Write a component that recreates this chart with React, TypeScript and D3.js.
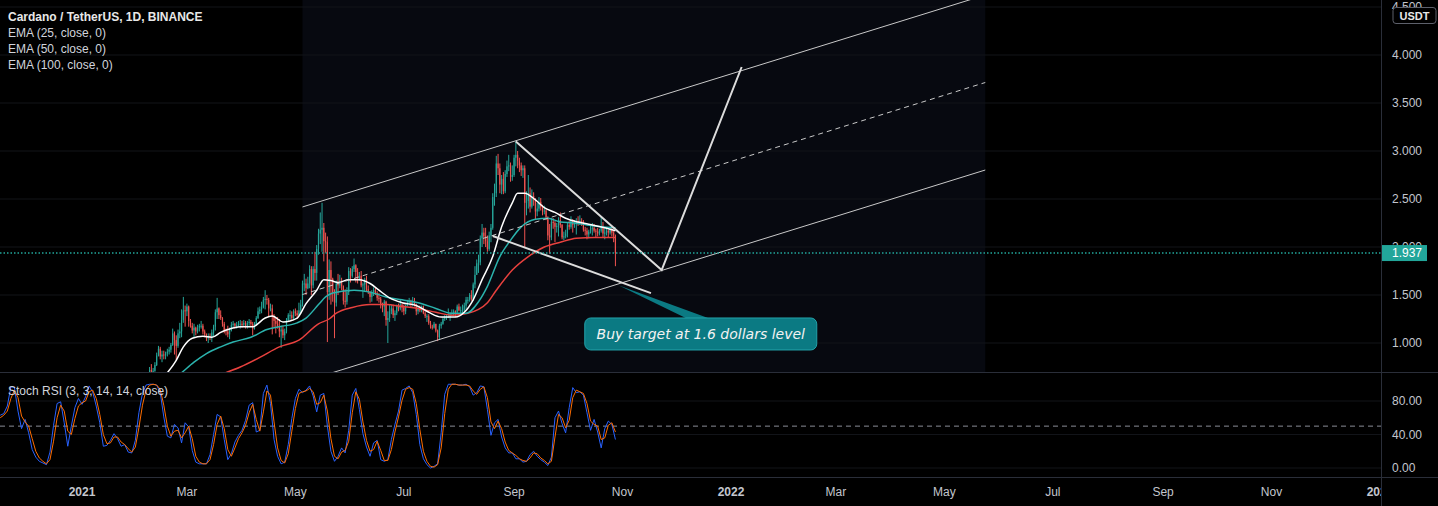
import React from "react";
import * as d3 from "d3";

const parse = (s: string) => d3.utcParse("%Y-%m-%d")(s) as Date;

// daily ADA/USDT candles, first bar 2021-02-08, open of a bar = previous close
const candleStart = "2021-02-08";
const firstOpen = 0.66;
const closes = [
  // feb
  0.72, 0.70, 0.71, 0.77, 0.87, 0.94, 0.86, 0.88, 0.87, 0.89, 0.91, 0.93, 0.98, 1.10, 1.03, 0.97, 1.10, 1.12, 1.24, 1.34, 1.33,
  // mar
  1.38, 1.23, 1.18, 1.13, 1.16, 1.12, 1.16, 1.18, 1.18, 1.12, 1.09, 1.05, 1.07, 1.06, 1.11, 1.17, 1.32, 1.36, 1.29, 1.26, 1.20, 1.13, 1.12, 1.09, 1.13, 1.19, 1.20, 1.18, 1.19, 1.20, 1.20,
  // apr
  1.19, 1.21, 1.17, 1.21, 1.22, 1.20, 1.15, 1.20, 1.26, 1.33, 1.35, 1.37, 1.45, 1.46, 1.45, 1.36, 1.36, 1.27, 1.23, 1.20, 1.17, 1.12, 1.14, 1.08, 1.12, 1.24, 1.29, 1.29, 1.26, 1.33,
  // may
  1.31, 1.29, 1.34, 1.40, 1.62, 1.62, 1.57, 1.62, 1.77, 1.60, 1.77, 1.73, 1.98, 2.14, 2.18, 2.20, 2.06, 2.05, 1.53, 1.76, 1.67, 1.53, 1.42, 1.62, 1.60, 1.64, 1.59, 1.44, 1.43, 1.53, 1.75,
  // jun
  1.70, 1.77, 1.81, 1.74, 1.67, 1.70, 1.60, 1.61, 1.66, 1.56, 1.53, 1.48, 1.53, 1.55, 1.52, 1.47, 1.46, 1.40, 1.38, 1.43, 1.24, 1.26, 1.33, 1.36, 1.29, 1.31, 1.39, 1.36, 1.40, 1.37,
  // jul
  1.33, 1.39, 1.42, 1.44, 1.40, 1.44, 1.40, 1.33, 1.37, 1.34, 1.38, 1.31, 1.28, 1.28, 1.21, 1.17, 1.16, 1.20, 1.13, 1.06, 1.18, 1.20, 1.25, 1.27, 1.27, 1.27, 1.31, 1.31, 1.33, 1.32, 1.38,
  // aug
  1.34, 1.34, 1.34, 1.39, 1.45, 1.45, 1.50, 1.46, 1.61, 1.71, 1.83, 1.84, 2.09, 2.15, 2.11, 2.06, 1.98, 2.12, 2.20, 2.52, 2.56, 2.87, 2.82, 2.65, 2.71, 2.58, 2.76, 2.84, 2.85, 2.73, 2.75,
  // sep
  2.93, 2.96, 2.90, 2.85, 2.80, 2.82, 2.46, 2.48, 2.56, 2.42, 2.53, 2.50, 2.37, 2.40, 2.47, 2.42, 2.37, 2.38, 2.31, 2.12, 2.10, 2.26, 2.25, 2.21, 2.22, 2.28, 2.23, 2.10, 2.11, 2.14,
  // oct
  2.23, 2.21, 2.28, 2.23, 2.25, 2.27, 2.25, 2.27, 2.26, 2.18, 2.17, 2.13, 2.16, 2.19, 2.20, 2.17, 2.16, 2.14, 2.17, 2.21, 2.14, 2.15, 2.17, 2.15, 2.18, 2.15, 2.12, 1.937,
];
const highs = [
  0.75, 0.78, 0.74, 0.80, 0.90, 0.97, 0.96, 0.92, 0.92, 0.91, 0.94, 0.96, 1.00, 1.15, 1.12, 1.08, 1.14, 1.21, 1.35, 1.48, 1.39,
  1.41, 1.39, 1.25, 1.21, 1.20, 1.17, 1.19, 1.20, 1.23, 1.20, 1.14, 1.10, 1.10, 1.10, 1.14, 1.19, 1.35, 1.47, 1.37, 1.34, 1.27, 1.22, 1.15, 1.18, 1.16, 1.22, 1.23, 1.21, 1.22, 1.23, 1.24,
  1.23, 1.24, 1.23, 1.23, 1.25, 1.24, 1.22, 1.22, 1.28, 1.37, 1.38, 1.43, 1.48, 1.55, 1.50, 1.47, 1.41, 1.40, 1.30, 1.26, 1.27, 1.25, 1.18, 1.18, 1.15, 1.26, 1.31, 1.34, 1.33, 1.35,
  1.36, 1.34, 1.42, 1.45, 1.65, 1.72, 1.67, 1.69, 1.81, 1.80, 1.80, 1.95, 2.02, 2.19, 2.36, 2.46, 2.25, 2.15, 2.11, 1.87, 1.85, 1.68, 1.56, 1.65, 1.72, 1.71, 1.68, 1.60, 1.56, 1.58, 1.79,
  1.78, 1.80, 1.88, 1.82, 1.78, 1.74, 1.75, 1.63, 1.68, 1.70, 1.60, 1.54, 1.55, 1.58, 1.58, 1.54, 1.52, 1.48, 1.42, 1.45, 1.44, 1.33, 1.40, 1.40, 1.40, 1.34, 1.40, 1.41, 1.45, 1.41,
  1.40, 1.40, 1.45, 1.47, 1.45, 1.48, 1.47, 1.41, 1.38, 1.39, 1.39, 1.39, 1.33, 1.30, 1.30, 1.23, 1.19, 1.22, 1.20, 1.14, 1.20, 1.22, 1.27, 1.29, 1.29, 1.36, 1.32, 1.35, 1.35, 1.34, 1.40,
  1.41, 1.38, 1.40, 1.42, 1.48, 1.48, 1.52, 1.55, 1.63, 1.80, 1.87, 1.92, 2.12, 2.24, 2.20, 2.20, 2.12, 2.16, 2.24, 2.56, 2.66, 2.95, 2.97, 2.87, 2.75, 2.78, 2.80, 2.90, 2.96, 2.88, 2.85,
  2.96, 3.10, 3.00, 2.93, 2.88, 2.85, 2.85, 2.58, 2.75, 2.62, 2.60, 2.57, 2.51, 2.46, 2.52, 2.51, 2.44, 2.43, 2.40, 2.32, 2.24, 2.30, 2.30, 2.27, 2.25, 2.31, 2.36, 2.24, 2.16, 2.18,
  2.26, 2.27, 2.32, 2.29, 2.28, 2.30, 2.32, 2.33, 2.30, 2.28, 2.21, 2.20, 2.18, 2.22, 2.25, 2.24, 2.19, 2.20, 2.19, 2.32, 2.26, 2.20, 2.20, 2.18, 2.21, 2.21, 2.17, 2.13,
];
const lows = [
  0.65, 0.66, 0.66, 0.70, 0.76, 0.86, 0.83, 0.80, 0.83, 0.83, 0.86, 0.88, 0.90, 0.97, 0.88, 0.82, 0.95, 1.05, 1.06, 1.21, 1.17,
  1.28, 1.17, 1.16, 1.10, 1.06, 1.08, 1.10, 1.12, 1.15, 1.09, 1.06, 1.02, 1.00, 1.03, 1.01, 1.07, 1.13, 1.25, 1.25, 1.24, 1.17, 1.10, 1.08, 1.06, 1.04, 1.12, 1.16, 1.15, 1.15, 1.17, 1.15,
  1.16, 1.17, 1.15, 1.15, 1.18, 1.17, 1.08, 1.14, 1.19, 1.25, 1.30, 1.31, 1.36, 1.35, 1.40, 1.28, 1.33, 1.09, 1.16, 1.10, 1.15, 1.06, 0.95, 1.05, 1.03, 1.10, 1.22, 1.24, 1.23, 1.24,
  1.28, 1.25, 1.28, 1.30, 1.38, 1.54, 1.50, 1.56, 1.57, 1.50, 1.57, 1.65, 1.65, 1.92, 2.03, 1.95, 1.85, 1.94, 1.01, 1.45, 1.40, 1.43, 1.05, 1.38, 1.50, 1.57, 1.55, 1.40, 1.37, 1.40, 1.50,
  1.63, 1.68, 1.74, 1.63, 1.62, 1.65, 1.58, 1.47, 1.53, 1.54, 1.51, 1.42, 1.43, 1.49, 1.50, 1.44, 1.42, 1.36, 1.32, 1.28, 1.18, 1.00, 1.22, 1.30, 1.26, 1.23, 1.29, 1.33, 1.34, 1.32,
  1.29, 1.30, 1.38, 1.39, 1.37, 1.38, 1.38, 1.29, 1.30, 1.32, 1.32, 1.30, 1.26, 1.22, 1.19, 1.15, 1.14, 1.15, 1.11, 1.02, 1.04, 1.15, 1.19, 1.23, 1.24, 1.26, 1.23, 1.28, 1.28, 1.27, 1.31,
  1.33, 1.31, 1.30, 1.32, 1.35, 1.41, 1.43, 1.44, 1.44, 1.57, 1.71, 1.73, 1.81, 2.00, 2.03, 2.00, 1.95, 1.96, 2.05, 2.18, 2.43, 2.52, 2.75, 2.56, 2.55, 2.55, 2.56, 2.73, 2.79, 2.68, 2.69,
  2.73, 2.84, 2.82, 2.78, 2.74, 2.72, 2.00, 2.33, 2.40, 2.36, 2.40, 2.43, 2.29, 2.32, 2.37, 2.38, 2.33, 2.34, 2.28, 2.07, 1.93, 2.07, 2.19, 2.05, 2.15, 2.11, 2.20, 2.08, 2.07, 2.09,
  2.10, 2.18, 2.19, 2.15, 2.20, 2.13, 2.22, 2.23, 2.22, 2.16, 2.12, 2.08, 2.09, 2.14, 2.12, 2.15, 2.10, 2.11, 2.12, 2.15, 2.10, 2.08, 2.12, 2.10, 2.13, 2.11, 2.05, 1.80,
];

// moving averages
const ema25: [string, number][] = [
  ["2021-02-08", 0.5], ["2021-02-18", 0.69], ["2021-02-23", 0.82], ["2021-02-27", 0.96], ["2021-03-04", 1.05],
  ["2021-03-10", 1.07], ["2021-03-15", 1.06], ["2021-03-20", 1.11], ["2021-03-24", 1.14], ["2021-03-31", 1.17],
  ["2021-04-07", 1.17], ["2021-04-14", 1.26], ["2021-04-18", 1.28], ["2021-04-24", 1.22], ["2021-05-02", 1.26],
  ["2021-05-07", 1.41], ["2021-05-13", 1.55], ["2021-05-17", 1.66], ["2021-05-21", 1.65], ["2021-05-25", 1.63],
  ["2021-05-31", 1.66], ["2021-06-06", 1.66], ["2021-06-12", 1.62], ["2021-06-17", 1.55], ["2021-06-23", 1.47],
  ["2021-06-30", 1.42], ["2021-07-08", 1.39], ["2021-07-15", 1.32], ["2021-07-22", 1.27], ["2021-07-30", 1.27],
  ["2021-08-04", 1.32], ["2021-08-09", 1.45], ["2021-08-14", 1.66], ["2021-08-20", 1.9], ["2021-08-25", 2.21],
  ["2021-08-31", 2.46], ["2021-09-03", 2.56], ["2021-09-07", 2.56], ["2021-09-13", 2.49], ["2021-09-18", 2.41],
  ["2021-09-24", 2.36], ["2021-09-30", 2.3], ["2021-10-07", 2.26], ["2021-10-15", 2.23], ["2021-10-22", 2.2],
  ["2021-10-28", 2.17],
];
const ema50: [string, number][] = [
  ["2021-02-08", 0.42], ["2021-02-26", 0.69], ["2021-03-05", 0.8], ["2021-03-12", 0.89], ["2021-03-20", 0.96],
  ["2021-03-27", 1.01], ["2021-04-06", 1.06], ["2021-04-15", 1.14], ["2021-04-22", 1.17], ["2021-05-02", 1.21],
  ["2021-05-07", 1.26], ["2021-05-14", 1.4], ["2021-05-18", 1.48], ["2021-05-22", 1.52], ["2021-06-03", 1.55],
  ["2021-06-12", 1.53], ["2021-06-21", 1.48], ["2021-06-30", 1.45], ["2021-07-09", 1.42], ["2021-07-19", 1.36],
  ["2021-07-28", 1.31], ["2021-08-05", 1.31], ["2021-08-12", 1.43], ["2021-08-17", 1.59], ["2021-08-24", 1.9],
  ["2021-08-30", 2.07], ["2021-09-05", 2.21], ["2021-09-13", 2.29], ["2021-09-20", 2.3], ["2021-09-27", 2.26],
  ["2021-10-05", 2.25], ["2021-10-12", 2.23], ["2021-10-20", 2.21], ["2021-10-28", 2.2],
];
const ema100: [string, number][] = [
  ["2021-02-08", 0.35], ["2021-03-20", 0.67], ["2021-03-31", 0.75], ["2021-04-11", 0.85], ["2021-04-22", 0.96],
  ["2021-05-03", 1.03], ["2021-05-14", 1.2], ["2021-05-20", 1.25], ["2021-05-24", 1.31], ["2021-06-02", 1.37],
  ["2021-06-12", 1.4], ["2021-06-21", 1.4], ["2021-06-30", 1.38], ["2021-07-09", 1.36], ["2021-07-19", 1.32],
  ["2021-07-28", 1.29], ["2021-08-06", 1.31], ["2021-08-12", 1.35], ["2021-08-17", 1.42], ["2021-08-22", 1.55],
  ["2021-08-31", 1.76], ["2021-09-09", 1.9], ["2021-09-18", 2.0], ["2021-09-27", 2.05], ["2021-10-06", 2.09],
  ["2021-10-16", 2.1], ["2021-10-28", 2.1],
];

// stoch rsi, one value every 2 days from 2020-11-16
const stochStart = "2020-11-16";
const stochStep = 2;
const stochK = [
  63, 65, 74, 97, 96, 68, 47, 58, 42, 22, 13, 8, 6, 4, 19, 51, 77, 79, 54, 26,
  50, 72, 83, 76, 85, 98, 91, 74, 54, 26, 27, 33, 41, 35, 26, 28, 19, 18, 33, 66,
  89, 99, 100, 100, 99, 90, 61, 38, 36, 52, 48, 30, 54, 49, 21, 7, 5, 5, 5, 16,
  40, 64, 61, 34, 10, 17, 31, 39, 45, 57, 75, 78, 43, 45, 89, 99, 77, 34, 14, 5,
  7, 28, 59, 83, 94, 90, 93, 98, 86, 67, 87, 89, 50, 20, 8, 14, 24, 18, 45, 87,
  95, 70, 41, 25, 14, 30, 33, 10, 8, 10, 34, 52, 68, 93, 95, 98, 90, 64, 28, 11,
  4, 0, 2, 5, 42, 88, 100, 100, 100, 99, 99, 100, 97, 87, 90, 98, 97, 70, 39, 54,
  58, 37, 24, 18, 18, 11, 11, 7, 8, 16, 20, 14, 10, 7, 3, 13, 60, 68, 53, 42,
  72, 96, 90, 91, 87, 66, 45, 58, 43, 24, 47, 56, 52, 34,
];
const stochD = [
  60, 63, 68, 83, 93, 84, 62, 55, 50, 35, 20, 12, 8, 5, 10, 32, 60, 75, 68, 44,
  40, 59, 74, 78, 80, 91, 93, 83, 64, 40, 29, 30, 37, 37, 31, 28, 23, 19, 25, 48,
  75, 93, 99, 100, 99, 94, 75, 50, 38, 44, 45, 36, 42, 50, 35, 14, 7, 5, 5, 10,
  28, 52, 62, 47, 22, 14, 24, 35, 42, 51, 66, 76, 58, 44, 67, 92, 87, 55, 24, 9,
  6, 17, 44, 71, 89, 91, 92, 95, 91, 76, 78, 87, 68, 35, 14, 11, 19, 21, 32, 66,
  91, 82, 55, 33, 20, 22, 32, 21, 9, 9, 22, 43, 61, 81, 94, 96, 94, 77, 46, 20,
  8, 2, 1, 4, 24, 65, 94, 100, 100, 99, 99, 99, 98, 92, 88, 94, 97, 84, 55, 47,
  56, 47, 31, 21, 18, 15, 11, 9, 8, 12, 18, 17, 12, 9, 5, 8, 37, 64, 60, 48,
  57, 84, 93, 91, 89, 77, 56, 52, 50, 34, 36, 51, 54, 43,
];

const priceTicks = [1, 1.5, 2, 2.5, 3, 3.5, 4, 4.5];
const stochTicks = [0, 40, 80];
const stochMid = 50;
const lastPrice = 1.937;
const timeTicks = [
  "2021-01-01", "2021-03-01", "2021-05-01", "2021-07-01", "2021-09-01", "2021-11-01",
  "2022-01-01", "2022-03-01", "2022-05-01", "2022-07-01", "2022-09-01", "2022-11-01", "2023-01-01",
];

// drawings
const channelStart: [string, number] = ["2021-05-05", 2.417];
const channelEnd: [string, number] = ["2022-05-24", 4.625];
const channelWidth = 1.823;
const wedgeTop: [string, number][] = [["2021-09-02", 3.1], ["2021-11-23", 1.76], ["2022-01-07", 3.875]];
const wedgeBottom: [string, number][] = [["2021-08-20", 2.115], ["2021-11-17", 1.52]];
const calloutTip: [string, number] = ["2021-10-30", 1.6];
const calloutCenter: [string, number] = ["2021-12-15", 1.094];
const calloutText = "Buy target at 1.6 dollars level";

const legend = ["Cardano / TetherUS, 1D, BINANCE", "EMA (25, close, 0)", "EMA (50, close, 0)", "EMA (100, close, 0)"];

const UP = "#26a69a";
const DOWN = "#ef5350";
const FONT = "'Liberation Sans', Arial, sans-serif";

export default function App() {
  const W = 1438;
  const H = 506;
  const axisX = 1381;
  const paneBottom = 372;
  const stochTop = 373;
  const stochBottom = 477;

  const x = d3.scaleUtc().domain([parse("2021-01-01"), parse("2022-01-01")]).range([82, 731]);
  const y = d3.scaleLinear().domain([1, 4]).range([343, 55]);
  const ys = d3.scaleLinear().domain([0, 80]).range([468, 401]);

  const start = parse(candleStart);
  const candles = closes.map((c, i) => ({
    date: d3.utcDay.offset(start, i),
    o: i === 0 ? firstOpen : closes[i - 1],
    h: highs[i],
    l: lows[i],
    c,
  }));

  const emaLine = d3
    .line<[string, number]>()
    .x((d) => x(parse(d[0])))
    .y((d) => y(d[1]))
    .curve(d3.curveMonotoneX);

  const sStart = parse(stochStart);
  const stochLine = d3
    .line<number>()
    .x((_, i) => x(d3.utcDay.offset(sStart, i * stochStep)))
    .y((v) => ys(v));

  const pt = (p: [string, number], dp = 0): [number, number] => [x(parse(p[0])), y(p[1] - dp)];
  const seg = (a: [number, number], b: [number, number]) => `M${a[0]},${a[1]}L${b[0]},${b[1]}`;

  const tip = pt(calloutTip);
  const cc = pt(calloutCenter);
  const boxW = 232;
  const boxH = 32;
  const boxTop = cc[1] - boxH / 2;

  const shadeX0 = x(parse(channelStart[0]));
  const shadeX1 = x(parse(channelEnd[0]));

  return (
    <div style={{ position: "fixed", left: 0, top: 0, width: W, height: H, background: "#000" }}>
      <svg width={W} height={H} style={{ display: "block", fontFamily: FONT }}>
        <defs>
          <clipPath id="main">
            <rect x={0} y={0} width={axisX} height={paneBottom} />
          </clipPath>
          <clipPath id="stoch">
            <rect x={0} y={stochTop} width={axisX} height={stochBottom - stochTop} />
          </clipPath>
          <clipPath id="time">
            <rect x={0} y={stochBottom} width={axisX} height={H - stochBottom} />
          </clipPath>
        </defs>
        <rect x={0} y={0} width={W} height={H} fill="#000" />

        {/* main pane */}
        <g clipPath="url(#main)">
          <rect x={shadeX0} y={0} width={shadeX1 - shadeX0} height={paneBottom} fill="#070910" />
          {priceTicks.map((p) => (
            <line key={p} x1={0} x2={axisX} y1={y(p)} y2={y(p)} stroke="#121419" />
          ))}
          {candles.map((d, i) => {
            const col = d.c >= d.o ? UP : DOWN;
            const cx = x(d.date);
            const top = y(Math.max(d.o, d.c));
            const bh = Math.max(1, Math.abs(y(d.o) - y(d.c)));
            return (
              <g key={i}>
                <line x1={cx} x2={cx} y1={y(d.h)} y2={y(d.l)} stroke={col} strokeWidth={1} />
                <rect x={cx - 0.6} y={top} width={1.2} height={bh} fill={col} />
              </g>
            );
          })}
          <path d={emaLine(ema100) || ""} fill="none" stroke="#e8413e" strokeWidth={1.5} />
          <path d={emaLine(ema50) || ""} fill="none" stroke="#2bb3ad" strokeWidth={1.5} />
          <path d={emaLine(ema25) || ""} fill="none" stroke="#ffffff" strokeWidth={1.5} />

          {/* parallel channel */}
          <path d={seg(pt(channelStart), pt(channelEnd))} stroke="#c9c9c9" strokeWidth={1} />
          <path
            d={seg(pt(channelStart, channelWidth / 2), pt(channelEnd, channelWidth / 2))}
            stroke="#c9c9c9"
            strokeWidth={1}
            strokeDasharray="5 4"
          />
          <path d={seg(pt(channelStart, channelWidth), pt(channelEnd, channelWidth))} stroke="#c9c9c9" strokeWidth={1} />

          {/* wedge + projection */}
          <path
            d={d3.line()(wedgeTop.map((p) => pt(p))) || ""}
            fill="none"
            stroke="#dcdcdc"
            strokeWidth={2}
          />
          <path
            d={d3.line()(wedgeBottom.map((p) => pt(p))) || ""}
            fill="none"
            stroke="#dcdcdc"
            strokeWidth={2}
          />

          <line x1={0} x2={axisX} y1={y(lastPrice)} y2={y(lastPrice)} stroke="#22a69a" strokeWidth={1.5} strokeDasharray="1.5 2" />

          {/* callout */}
          <polygon
            points={`${tip[0]},${tip[1]} ${cc[0] - 13},${boxTop + 1} ${cc[0] + 10},${boxTop + 1}`}
            fill="#0b7a83"
          />
          <rect
            x={cc[0] - boxW / 2}
            y={boxTop}
            width={boxW}
            height={boxH}
            rx={6}
            fill="#0b7a83"
            stroke="#23a3ab"
            strokeWidth={1}
          />
          <text
            x={cc[0]}
            y={cc[1] + 5}
            textAnchor="middle"
            fill="#f2f2f2"
            fontSize={14}
            fontStyle="italic"
            fontFamily="'DejaVu Sans', Verdana, sans-serif"
          >
            {calloutText}
          </text>
        </g>

        {/* legend */}
        {legend.map((t, i) => (
          <text
            key={t}
            x={8}
            y={21 + i * 16}
            fill={i === 0 ? "#e8e8e8" : "#d1d4dc"}
            fontSize={12}
            fontWeight={i === 0 ? 700 : 400}
          >
            {t}
          </text>
        ))}

        {/* stoch pane */}
        <g clipPath="url(#stoch)">
          {stochTicks.map((v) => (
            <line key={v} x1={0} x2={axisX} y1={ys(v)} y2={ys(v)} stroke="#121419" />
          ))}
          <line x1={0} x2={axisX} y1={ys(stochMid)} y2={ys(stochMid)} stroke="#8a8d96" strokeDasharray="5 4" />
          <path d={stochLine(stochK) || ""} fill="none" stroke="#2962ff" strokeWidth={1} />
          <path d={stochLine(stochD) || ""} fill="none" stroke="#ff6d00" strokeWidth={1} />
        </g>
        <text x={8} y={395} fill="#d1d4dc" fontSize={12}>
          Stoch RSI (3, 3, 14, 14, close)
        </text>

        {/* separators */}
        <line x1={0} x2={W} y1={paneBottom + 0.5} y2={paneBottom + 0.5} stroke="#2a2e39" />
        <line x1={0} x2={W} y1={stochBottom + 0.5} y2={stochBottom + 0.5} stroke="#2a2e39" />
        <line x1={axisX + 0.5} x2={axisX + 0.5} y1={0} y2={H} stroke="#2a2e39" />

        {/* price axis */}
        {priceTicks.map((p) => (
          <text key={p} x={1392} y={y(p)} dy="0.35em" fill="#c3c6ce" fontSize={12}>
            {d3.format(".3f")(p)}
          </text>
        ))}
        <rect x={1393} y={7.5} width={43} height={16} rx={3} fill="#000" stroke="#5d606b" />
        <text x={1414.5} y={20} textAnchor="middle" fill="#e8e8e8" fontSize={11} fontWeight={700}>
          USDT
        </text>
        <rect x={1382} y={y(lastPrice) - 8} width={45} height={16} fill="#22a69a" />
        <text x={1392} y={y(lastPrice)} dy="0.35em" fill="#ffffff" fontSize={12}>
          {d3.format(".3f")(lastPrice)}
        </text>

        {/* stoch axis */}
        {stochTicks.map((v) => (
          <text key={v} x={1392} y={ys(v)} dy="0.35em" fill="#c3c6ce" fontSize={12}>
            {d3.format(".2f")(v)}
          </text>
        ))}

        {/* time axis */}
        <g clipPath="url(#time)">
          {timeTicks.map((t) => {
            const d = parse(t);
            const isYear = d.getUTCMonth() === 0;
            return (
              <text
                key={t}
                x={x(d)}
                y={496}
                textAnchor="middle"
                fill="#c3c6ce"
                fontSize={12}
                fontWeight={isYear ? 700 : 400}
              >
                {isYear ? d3.utcFormat("%Y")(d) : d3.utcFormat("%b")(d)}
              </text>
            );
          })}
        </g>
      </svg>
    </div>
  );
}
